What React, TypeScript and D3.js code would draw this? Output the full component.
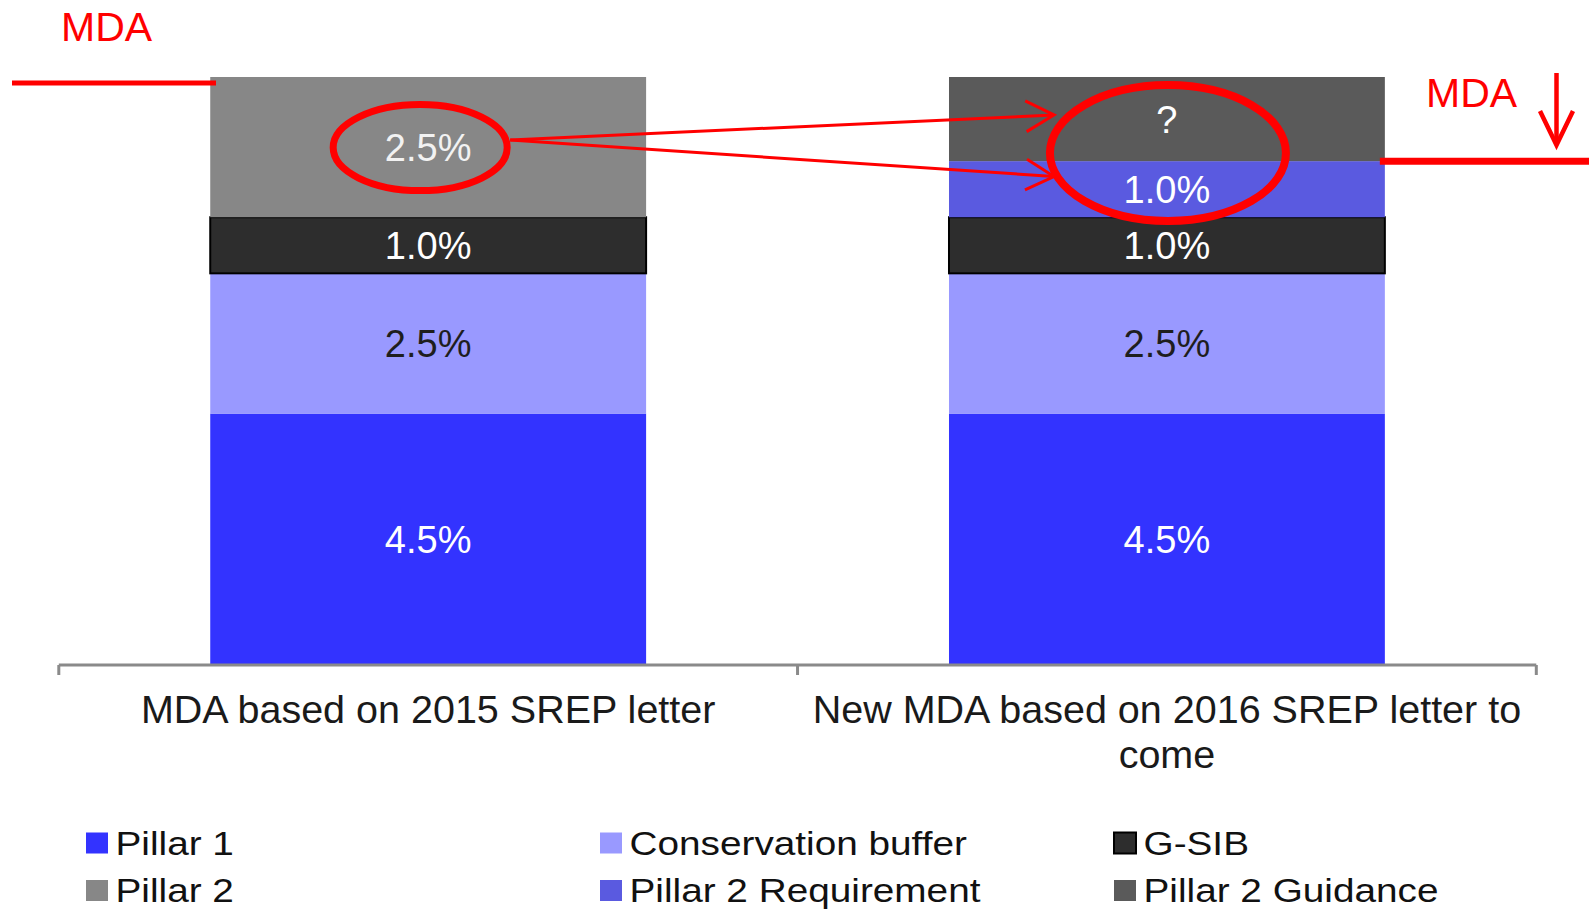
import React from "react";
import * as d3 from "d3";

// ---------- data ----------
const categories = [
  "MDA based on 2015 SREP letter",
  "New MDA based on 2016 SREP letter to come",
];
const seriesNames = [
  "Pillar 1",
  "Conservation buffer",
  "G-SIB",
  "Pillar 2",
  "Pillar 2 Requirement",
  "Pillar 2 Guidance",
];
const pillar1 = [4.5, 4.5];
const conservationBuffer = [2.5, 2.5];
const gsib = [1.0, 1.0];
const pillar2 = [2.5, 0];
const pillar2Requirement = [0, 1.0];
const pillar2Guidance = [0, 1.5];
const guidanceLabels = ["", "?"];
const yMax = 10.5;

const seriesValues: Record<string, number[]> = {
  "Pillar 1": pillar1,
  "Conservation buffer": conservationBuffer,
  "G-SIB": gsib,
  "Pillar 2": pillar2,
  "Pillar 2 Requirement": pillar2Requirement,
  "Pillar 2 Guidance": pillar2Guidance,
};

const colors: Record<string, string> = {
  "Pillar 1": "#3333ff",
  "Conservation buffer": "#9999ff",
  "G-SIB": "#2d2d2d",
  "Pillar 2": "#878787",
  "Pillar 2 Requirement": "#5a5ae0",
  "Pillar 2 Guidance": "#5a5a5a",
};
const labelColors: Record<string, string> = {
  "Pillar 1": "#ffffff",
  "Conservation buffer": "#1e1e1e",
  "G-SIB": "#ffffff",
  "Pillar 2": "#f2f2f2",
  "Pillar 2 Requirement": "#ffffff",
  "Pillar 2 Guidance": "#ffffff",
};

const FONT = "'Liberation Sans', Arial, sans-serif";
const W = 1589;
const H = 909;

function wrap(text: string, maxWidth: number, font: string): string[] {
  const canvas = document.createElement("canvas");
  const ctx = canvas.getContext("2d")!;
  ctx.font = font;
  const words = text.split(" ");
  const lines: string[] = [];
  let cur = "";
  for (const w of words) {
    const t = cur ? cur + " " + w : w;
    if (ctx.measureText(t).width > maxWidth && cur) {
      lines.push(cur);
      cur = w;
    } else cur = t;
  }
  if (cur) lines.push(cur);
  return lines;
}

export default function App() {
  const rows = categories.map((c, i) => {
    const r: any = { category: c };
    seriesNames.forEach((s) => (r[s] = seriesValues[s][i]));
    return r;
  });
  const stacked = d3.stack<any>().keys(seriesNames)(rows);

  const x = d3
    .scaleBand<string>()
    .domain(categories)
    .range([58.8, 1536.3])
    .paddingInner(0.41)
    .paddingOuter(0.205);
  const y = d3.scaleLinear().domain([0, yMax]).range([666, 77]);

  const axisY = 665;
  const step = x.step();
  const axisFont = 39.5;

  const labelText = (s: string, i: number, v: number) => {
    if (s === "Pillar 2 Guidance") return guidanceLabels[i];
    return d3.format(".1f")(v) + "%";
  };

  // annotation anchors derived from scales
  const c0 = x(categories[0])! + x.bandwidth() / 2;
  const c1 = x(categories[1])! + x.bandwidth() / 2;
  const p2Mid0 = y(pillar1[0] + conservationBuffer[0] + gsib[0] + pillar2[0] / 2);
  const bar2Top = y(pillar1[1] + conservationBuffer[1] + gsib[1] + pillar2Requirement[1] + pillar2Guidance[1]);
  const p2rTop = y(pillar1[1] + conservationBuffer[1] + gsib[1] + pillar2Requirement[1]);
  const bar1Top = y(pillar1[0] + conservationBuffer[0] + gsib[0] + pillar2[0]);

  const e1 = { cx: c0 - 8, cy: p2Mid0 + 0.5, rx: 87, ry: 43 };
  const e2 = { cx: c1 + 1, cy: 153, rx: 118, ry: 68 };
  const start = { x: e1.cx + e1.rx + 3, y: 140 };
  const tips = [
    { x: 1054, y: 115 },
    { x: 1054, y: 176.5 },
  ];
  const arrowHead = (from: { x: number; y: number }, tip: { x: number; y: number }) => {
    const ang = Math.atan2(tip.y - from.y, tip.x - from.x);
    const len = 32;
    const spread = 0.5;
    const a1 = ang + Math.PI - spread;
    const a2 = ang + Math.PI + spread;
    return `M${tip.x + len * Math.cos(a1)},${tip.y + len * Math.sin(a1)} L${tip.x},${tip.y} L${tip.x + len * Math.cos(a2)},${tip.y + len * Math.sin(a2)}`;
  };

  const legendCols = 3;
  const legendX0 = 86;
  const legendColStep = 514;
  const legendY0 = 843;
  const legendRowStep = 47.5;

  return (
    <svg
      width={W}
      height={H}
      style={{ position: "absolute", left: 0, top: 0, display: "block", background: "#fff" }}
      fontFamily={FONT}
    >
      {/* bars */}
      {stacked.map((layer) => (
        <g key={layer.key}>
          {layer.map((d, i) => {
            const v = d[1] - d[0];
            if (v <= 0) return null;
            return (
              <rect
                key={i}
                x={x(categories[i])}
                y={y(d[1])}
                width={x.bandwidth()}
                height={y(d[0]) - y(d[1])}
                fill={colors[layer.key]}
                stroke={layer.key === "G-SIB" ? "#000" : "none"}
                strokeWidth={layer.key === "G-SIB" ? 2 : 0}
              />
            );
          })}
        </g>
      ))}
      {/* segment labels */}
      {stacked.map((layer) => (
        <g key={"l" + layer.key}>
          {layer.map((d, i) => {
            const v = d[1] - d[0];
            if (v <= 0) return null;
            return (
              <text
                key={i}
                x={x(categories[i])! + x.bandwidth() / 2}
                y={(y(d[0]) + y(d[1])) / 2}
                dy="0.36em"
                textAnchor="middle"
                fontSize={38}
                fill={labelColors[layer.key]}
              >
                {labelText(layer.key, i, v)}
              </text>
            );
          })}
        </g>
      ))}

      {/* category axis */}
      <line x1={x.range()[0]} x2={x.range()[1]} y1={axisY} y2={axisY} stroke="#8a8a8a" strokeWidth={3} />
      {[0, 1, 2].map((k) => {
        const tx = x.range()[0] + k * step;
        return <line key={k} x1={tx} x2={tx} y1={axisY} y2={axisY + 10} stroke="#8a8a8a" strokeWidth={3} />;
      })}
      {categories.map((c) => {
        const lines = wrap(c, step - 20, `${axisFont}px ${FONT}`);
        return (
          <text
            key={c}
            x={x(c)! + x.bandwidth() / 2}
            y={723}
            textAnchor="middle"
            fontSize={axisFont}
            fill="#1a1a1a"
          >
            {lines.map((ln, j) => (
              <tspan key={j} x={x(c)! + x.bandwidth() / 2} dy={j === 0 ? 0 : 45}>
                {ln}
              </tspan>
            ))}
          </text>
        );
      })}

      {/* legend */}
      {seriesNames.map((s, i) => {
        const col = i % legendCols;
        const row = Math.floor(i / legendCols);
        const lx = legendX0 + col * legendColStep;
        const cy = legendY0 + row * legendRowStep;
        return (
          <g key={s}>
            <rect
              x={lx}
              y={cy - 10.5}
              width={22}
              height={21}
              fill={colors[s]}
              stroke={s === "G-SIB" ? "#000" : "none"}
              strokeWidth={s === "G-SIB" ? 2 : 0}
            />
            <text
              transform={`translate(${lx + 29.5},${cy + 11.5}) scale(1.14,1)`}
              fontSize={34}
              fill="#111"
            >
              {s}
            </text>
          </g>
        );
      })}

      {/* annotations */}
      <g stroke="#ff0000" fill="none">
        <line x1={12} x2={216} y1={bar1Top + 6} y2={bar1Top + 6} strokeWidth={5} />
        <line x1={x(categories[1])! + x.bandwidth() - 5} x2={W} y1={p2rTop} y2={p2rTop} strokeWidth={7} />
        <ellipse cx={e1.cx} cy={e1.cy} rx={e1.rx} ry={e1.ry} strokeWidth={7} />
        <ellipse cx={e2.cx} cy={e2.cy} rx={e2.rx} ry={e2.ry} strokeWidth={8} />
        {tips.map((t, k) => (
          <g key={k}>
            <line x1={start.x} y1={start.y} x2={t.x} y2={t.y} strokeWidth={3} />
            <path d={arrowHead(start, t)} strokeWidth={3} />
          </g>
        ))}
        <line x1={1556.5} x2={1556.5} y1={bar2Top - 4} y2={145} strokeWidth={4.5} />
        <path d="M1540,111 L1556.5,145 L1573,111" strokeWidth={4.5} />
      </g>
      <text x={61} y={41} fontSize={41} fill="#ff0000">MDA</text>
      <text x={1426} y={107} fontSize={41} fill="#ff0000">MDA</text>
    </svg>
  );
}
